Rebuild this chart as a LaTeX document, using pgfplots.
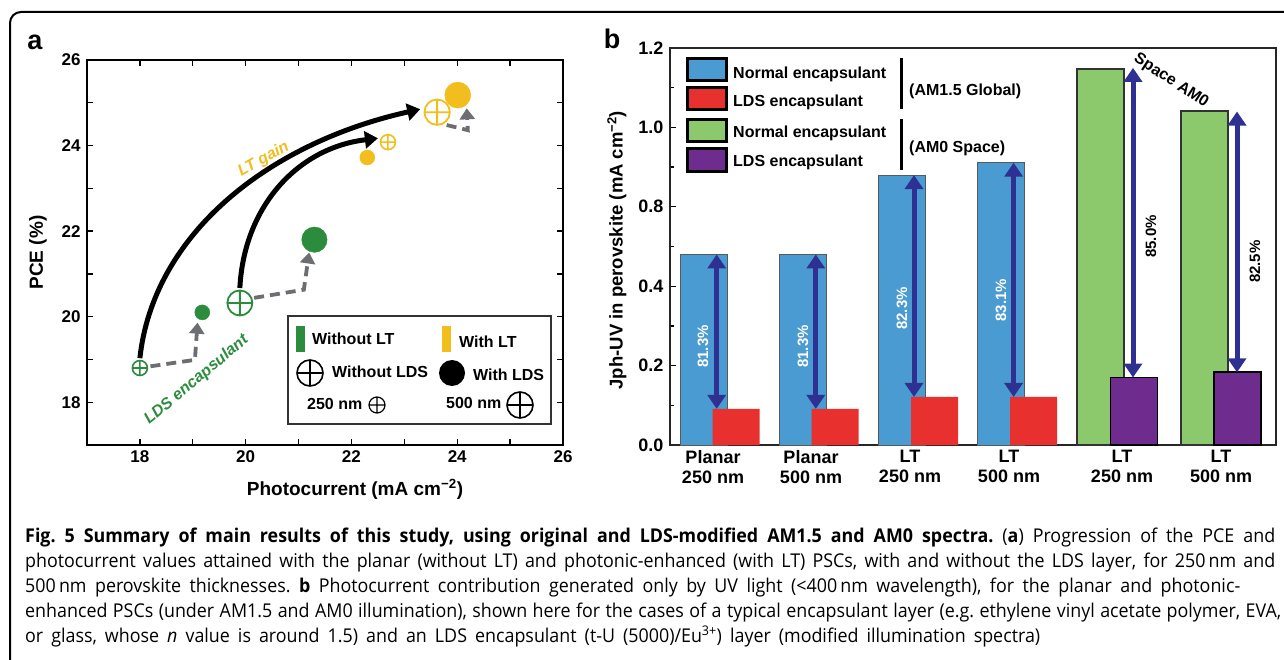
\documentclass[border=0pt]{standalone}
\usepackage{fontspec}
\setmainfont{Liberation Sans}
\newfontfamily\capfont[FakeStretch=0.94]{Open Sans}
\usepackage{pgfplots}
\pgfplotsset{compat=1.18}
\usetikzlibrary{arrows.meta,plotmarks}

\definecolor{gA}{HTML}{2B8C3E}
\definecolor{yA}{HTML}{F2BE1E}
\definecolor{grA}{HTML}{6D6E71}
\definecolor{bB}{HTML}{4A9BD1}
\definecolor{rB}{HTML}{E8312F}
\definecolor{gB}{HTML}{8CC86C}
\definecolor{pB}{HTML}{6F2C8F}
\definecolor{nB}{HTML}{2E3192}

\newcommand\fs[1]{\fontsize{#1}{#1}\selectfont}
\newcommand\cl[2]{\hbox to #1pt{\capfont\fs{19}\frenchspacing\spaceskip=0.25em plus 1fil minus 0.12em\relax #2}}

\begin{document}
\begin{tikzpicture}
\useasboundingbox (0pt,0pt) rectangle (1284pt,659pt);

% ---------------- panel a
\begin{axis}[at={(87pt,214pt)},anchor=south west,scale only axis,width=476pt,height=385pt,
  xmin=17,xmax=26,ymin=17,ymax=26,
  xtick={18,20,22,24,26},ytick={18,20,22,24,26},
  minor xtick={17,19,21,23,25},minor ytick={17,19,21,23,25},
  tick align=inside,major tick length=6pt,minor tick length=6pt,
  axis line style={line width=1.6pt,black},
  tick style={line width=1.4pt,black},
  /pgf/number format/assume math mode=true,
  ticklabel style={font=\bfseries\fs{17}},
  xticklabel style={yshift=-2pt},yticklabel style={xshift=-3pt},
  xlabel={Photocurrent (mA cm\textsuperscript{−2})},ylabel={PCE (\%)},
  label style={font=\bfseries\fs{19}},
  xlabel style={at={(axis description cs:0.563,-0.130)},anchor=base},
  ylabel style={at={(axis description cs:-0.103,0.5)},anchor=center}]

% LT gain arrows
\draw[line width=5pt,-{Triangle[length=13pt,width=17pt]}]
  (axis cs:18,19.03) .. controls (axis cs:18.25,21.9) and (axis cs:20.4,24.05) .. (axis cs:23.3,24.85);
\draw[line width=5pt,-{Triangle[length=13pt,width=17pt]}]
  (axis cs:19.89,20.67) .. controls (axis cs:19.97,22.6) and (axis cs:21.0,23.95) .. (axis cs:22.5,24.17);
% LDS arrows
\begin{scope}[grA,line width=3.8pt,dash pattern=on 10pt off 6pt]
\draw[-{Triangle[length=11pt,width=15pt]}] (axis cs:18.2,18.84) -- (axis cs:19.04,18.99) -- (axis cs:19.09,19.86);
\draw[-{Triangle[length=11pt,width=15pt]}] (axis cs:20.16,20.44) -- (axis cs:21.1,20.63) -- (axis cs:21.2,21.5);
\draw[-{Triangle[length=11pt,width=15pt]}] (axis cs:23.8,24.48) -- (axis cs:24.2,24.36) -- (axis cs:24.18,24.87);
\end{scope}

\addplot[only marks,mark=oplus*,mark size=7.5pt,gA,mark options={fill=white,line width=1.6pt}] coordinates {(18,18.8)};
\addplot[only marks,mark=*,mark size=7.5pt,gA] coordinates {(19.18,20.1)};
\addplot[only marks,mark=oplus*,mark size=12.5pt,gA,mark options={fill=white,line width=1.8pt}] coordinates {(19.89,20.32)};
\addplot[only marks,mark=*,mark size=12.7pt,gA] coordinates {(21.3,21.8)};
\addplot[only marks,mark=*,mark size=7.5pt,yA] coordinates {(22.3,23.72)};
\addplot[only marks,mark=oplus*,mark size=7.5pt,yA,mark options={fill=white,line width=1.6pt}] coordinates {(22.69,24.08)};
\addplot[only marks,mark=*,mark size=13pt,yA] coordinates {(24.01,25.18)};
\addplot[only marks,mark=oplus*,mark size=12.7pt,yA,mark options={fill=white,line width=1.8pt}] coordinates {(23.62,24.78)};

\node[rotate=29,text=yA,font=\bfseries\itshape\fs{16}] at (axis cs:20.34,23.68) {LT gain};
\node[rotate=40,text=gA,font=\bfseries\itshape\fs{16}] at (axis cs:19.07,18.52) {LDS encapsulant};
\end{axis}

% ---------------- panel b
\begin{axis}[at={(670pt,214pt)},anchor=south west,scale only axis,width=606pt,height=397pt,
  xmin=0,xmax=6.06,ymin=0,ymax=1,
  ytick={0,0.2,0.4,0.6,0.8,1},yticklabels={0.0,0.2,0.4,0.8,1.0,1.2},
  minor ytick={0.1,0.3,0.5,0.7,0.9},
  ytick pos=left,tick align=inside,major tick length=6pt,minor tick length=4pt,
  xtick={0.43,1.41,2.40,3.39,4.52,5.51},
  xticklabels={{Planar\\250 nm},{Planar\\500 nm},{LT\\250 nm},{LT\\500 nm},{LT\\250 nm},{LT\\500 nm}},
  xtick style={draw=none},
  axis line style={line width=1.4pt,black!85},
  ytick style={line width=1.3pt,black},
  /pgf/number format/assume math mode=true,
  yticklabel style={font=\bfseries\fs{18},xshift=-3pt},
  xticklabel style={align=center,font=\bfseries\fontsize{18}{19.5}\selectfont,yshift=-2pt},
  ylabel={Jph-UV in perovskite (mA cm\textsuperscript{−2})},
  label style={font=\bfseries\fs{18.5}},
  ylabel style={at={(axis description cs:-0.0875,0.491)},anchor=center},
  darr/.style={nB,line width=5pt,no marks,
    {Triangle[length=14pt,width=18pt]}-{Triangle[length=14pt,width=18pt]}}]

\addplot[ybar,bar width=0.47,bar shift=0pt,fill=bB,draw=black!65,line width=0.8pt]
  coordinates {(0.335,0.48) (1.325,0.48) (2.315,0.68) (3.31,0.711)};
\addplot[ybar,bar width=0.47,bar shift=0pt,fill=rB,draw=none]
  coordinates {(0.66,0.091) (1.65,0.091) (2.645,0.121) (3.635,0.121)};
\addplot[ybar,bar width=0.47,bar shift=0pt,fill=gB,draw=black!80,line width=1.3pt]
  coordinates {(4.305,0.947) (5.345,0.841)};
\addplot[ybar,bar width=0.47,bar shift=0pt,fill=pB,draw=black,line width=1.8pt]
  coordinates {(4.64,0.170) (5.675,0.183)};

\addplot[darr] coordinates {(0.467,0.48) (0.467,0.091)};
\addplot[darr] coordinates {(1.458,0.48) (1.458,0.091)};
\addplot[darr] coordinates {(2.44,0.68) (2.44,0.121)};
\addplot[darr] coordinates {(3.436,0.711) (3.436,0.121)};
\addplot[darr] coordinates {(4.63,0.95) (4.63,0.17)};
\addplot[darr] coordinates {(5.67,0.84) (5.67,0.183)};

\node[rotate=90,text=white,font=\bfseries\fs{15}] at (axis cs:0.33,0.248) {81.3\%};
\node[rotate=90,text=white,font=\bfseries\fs{15}] at (axis cs:1.33,0.248) {81.3\%};
\node[rotate=90,text=white,font=\bfseries\fs{15}] at (axis cs:2.32,0.344) {82.3\%};
\node[rotate=90,text=white,font=\bfseries\fs{15}] at (axis cs:3.31,0.365) {83.1\%};
\node[rotate=90,font=\bfseries\fs{15}] at (axis cs:4.81,0.525) {85.0\%};
\node[rotate=90,font=\bfseries\fs{15}] at (axis cs:5.85,0.462) {82.5\%};
\node[rotate=-33,font=\bfseries\fs{16}] at (axis cs:5.01,0.917) {Space AM0};
\end{axis}

\begin{scope}[x=1pt,y=1pt]
\draw[line width=2pt,rounded corners=11pt] (10,-40) rectangle (1330,647);

% panel labels
\node[font=\bfseries\fs{27},anchor=base] at (35,609) {a};
\node[font=\bfseries\fs{27},anchor=base] at (612,610) {b};

% legend of panel a
\draw[line width=1.5pt,black!80] (288,343) rectangle (551,235);
\fill[gA] (296,333) rectangle (305,307);
\fill[yA] (442,333) rectangle (451,307);
\node[anchor=base west,inner sep=0,font=\bfseries\fs{16}] at (312,314) {Without LT};
\node[anchor=base west,inner sep=0,font=\bfseries\fs{16}] at (459,311) {With LT};
\node[anchor=base west,inner sep=0,font=\bfseries\fs{16}] at (332,281) {Without LDS};
\node[anchor=base west,inner sep=0,font=\bfseries\fs{16}] at (473,278) {With LDS};
\node[anchor=base west,inner sep=0,font=\bfseries\fs{16}] at (307,249) {250 nm};
\node[anchor=base west,inner sep=0,font=\bfseries\fs{16}] at (446,250) {500 nm};
\draw[line width=1.6pt] (310,286) circle[radius=13pt] (297,286)--(323,286) (310,273)--(310,299);
\fill (452,286) circle[radius=13pt];
\draw[line width=1.2pt] (377,254) circle[radius=8pt] (369,254)--(385,254) (377,246)--(377,262);
\draw[line width=1.6pt] (520,254) circle[radius=13pt] (507,254)--(533,254) (520,241)--(520,267);

% legend of panel b
\filldraw[line width=3pt,fill=bB] (687,600) rectangle (726,578);
\filldraw[line width=3pt,fill=rB] (687,571) rectangle (726,549);
\filldraw[line width=3pt,fill=gB] (687,539) rectangle (726,517);
\filldraw[line width=3pt,fill=pB] (687,510) rectangle (726,487);
\draw[line width=3pt] (901,601)--(901,550) (901,540)--(901,489);
\node[anchor=base west,inner sep=0,font=\bfseries\fs{16}] at (733,580.7) {Normal encapsulant};
\node[anchor=base west,inner sep=0,font=\bfseries\fs{16}] at (733,552) {LDS encapsulant};
\node[anchor=base west,inner sep=0,font=\bfseries\fs{16}] at (733,521) {Normal encapsulant};
\node[anchor=base west,inner sep=0,font=\bfseries\fs{16}] at (733,492) {LDS encapsulant};
\node[anchor=base west,inner sep=0,font=\bfseries\fs{16}] at (909,563) {(AM1.5 Global)};
\node[anchor=base west,inner sep=0,font=\bfseries\fs{16}] at (909,506) {(AM0 Space)};

% caption
\node[anchor=base west,inner sep=0] at (25,117) {\cl{1250}{\textbf{Fig. 5 Summary of main results of this study, using original and LDS-modified AM1.5 and AM0 spectra.} (\textbf{a}) Progression of the PCE and}};
\node[anchor=base west,inner sep=0] at (25,92) {\cl{1250}{photocurrent values attained with the planar (without LT) and photonic-enhanced (with LT) PSCs, with and without the LDS layer, for 250\,nm and}};
\node[anchor=base west,inner sep=0] at (25,67) {\cl{1215}{500\,nm perovskite thicknesses. \textbf{b} Photocurrent contribution generated only by UV light (<400\,nm wavelength), for the planar and photonic-}};
\node[anchor=base west,inner sep=0] at (25,42) {\cl{1256}{enhanced PSCs (under AM1.5 and AM0 illumination), shown here for the cases of a typical encapsulant layer (e.g. ethylene vinyl acetate polymer, EVA,}};
\node[anchor=base west,inner sep=0] at (25,17) {\cl{1015}{or glass, whose \textit{n} value is around 1.5) and an LDS encapsulant (t-U (5000)/Eu\textsuperscript{3+}) layer (modified illumination spectra)}};
\end{scope}
\end{tikzpicture}
\end{document}
